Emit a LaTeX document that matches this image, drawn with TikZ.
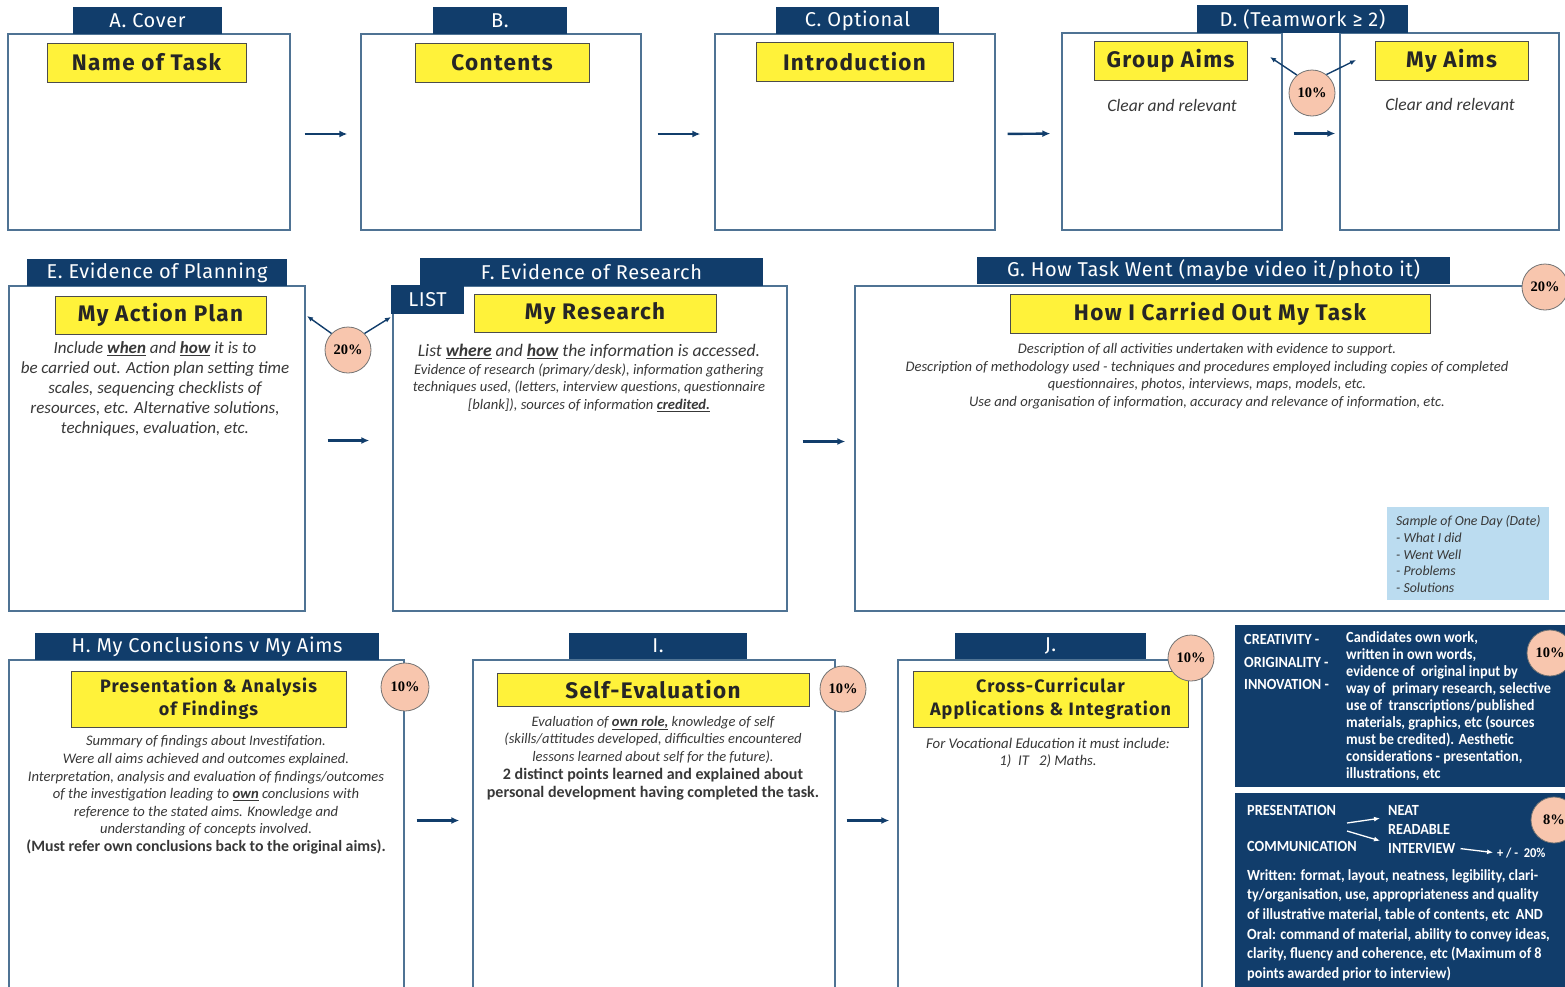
\documentclass[tikz,border=0pt]{standalone}
\usepackage{fontspec}
\setmainfont{Carlito}
\newfontfamily\headfont{Fira Sans}[LetterSpace=3]
\newfontfamily\labelfont{Fira Sans}[LetterSpace=6]
\newfontfamily\pctfont{Liberation Serif}
\newfontfamily\condfont{Carlito}[FakeStretch=0.92]
\usetikzlibrary{arrows.meta,positioning}
\definecolor{navy}{HTML}{113D6B}
\definecolor{panelline}{HTML}{4F7394}
\definecolor{hilite}{HTML}{FFF23A}
\definecolor{peach}{HTML}{F8C6AE}
\definecolor{skyblue}{HTML}{BBDCF0}
\definecolor{ink}{HTML}{383838}
\newcommand{\ulbf}[1]{\underline{\textbf{#1}}}
\tikzset{
  flow/.style={-{Latex[length=8pt,width=7pt]},line width=2.4pt,draw=navy},
  pctflow/.style={-{Latex[length=6pt,width=5pt]},line width=1.4pt,draw=navy},
  whiteflow/.style={-{Latex[length=6pt,width=5pt]},line width=1.3pt,draw=white},
  panel/.style={draw=panelline,line width=1.3pt,fill=white,inner sep=0pt},
  tab/.style={fill=navy,inner sep=0pt,text=white,font=\headfont\fontsize{20}{22}\selectfont},
  hl/.style={fill=hilite,draw=black!70,line width=1pt,inner sep=0pt,align=center,text=black!85,
             font=\labelfont\bfseries\fontsize{22.5}{23.5}\selectfont},
  hltwo/.style={hl,font=\labelfont\bfseries\fontsize{18}{23}\selectfont},
  pct/.style={circle,fill=peach,draw=black!55,line width=0.8pt,minimum size=46pt,inner sep=0pt,
              font=\pctfont\bfseries\fontsize{14.5}{16}\selectfont},
  note/.style={align=center,inner sep=0pt,text=ink,font=\itshape\fontsize{14.6}{17.6}\selectfont},
  darkbox/.style={fill=navy,inner sep=0pt},
  boxtext/.style={inner sep=0pt,anchor=west,align=left,text=white,
                  font=\condfont\bfseries\fontsize{15.5}{17}\selectfont}
}
\begin{document}
\begin{tikzpicture}[x=1pt,y=-1pt]
\useasboundingbox (0,0) rectangle (1565,986);
\clip (0,0) rectangle (1565,986);
% row 1
\node[panel,minimum width=282pt,minimum height=196pt] (boxA) at (149,132) {};
\node[tab,minimum width=149pt,minimum height=27pt] (tabA) at (147.5,20.5) {A. Cover};
\node[hl,minimum width=199pt,minimum height=39pt] (lblA) at (146.5,62.5) {Name of Task};
\node[panel,minimum width=280pt,minimum height=196pt] (boxB) at (501,132) {};
\node[tab,minimum width=134pt,minimum height=27pt] (tabB) at (500,20.5) {B.};
\node[hl,minimum width=174pt,minimum height=39pt] (lblB) at (502,62.5) {Contents};
\node[panel,minimum width=280pt,minimum height=196pt] (boxC) at (855,132) {};
\node[tab,minimum width=163pt,minimum height=27pt] (tabC) at (857.5,20.5) {C. Optional};
\node[hl,minimum width=197pt,minimum height=39pt] (lblC) at (854.5,61.5) {Introduction};
\node[panel,minimum width=220pt,minimum height=197pt] (boxDa) at (1172,131.5) {};
\node[panel,minimum width=219pt,minimum height=197pt] (boxDb) at (1449.5,131.5) {};
\node[tab,minimum width=211pt,minimum height=28pt] (tabD) at (1302.5,19) {D. (Teamwork ≥ 2)};
\node[hl,minimum width=153pt,minimum height=39pt] (lblDa) at (1170.5,60.5) {Group Aims};
\node[hl,minimum width=153pt,minimum height=39pt] (lblDb) at (1451.5,60.5) {My Aims};
\node[note,font=\itshape\fontsize{17.5}{20}\selectfont] (aimsDa) at (1172,105) {Clear and relevant};
\node[note,font=\itshape\fontsize{17.5}{20}\selectfont] (aimsDb) at (1450,104) {Clear and relevant};
\node[pct] (pctD) at (1312,93) {10\%};
\coordinate (tipDa) at (1270,57);
\coordinate (tipDb) at (1356,60);
\draw[pctflow] (pctD.130) -- (tipDa);
\draw[pctflow] (pctD.52) -- (tipDb);
\draw[flow,shorten <=14pt,shorten >=13pt] ([yshift=-2pt]boxA.east) -- ([yshift=-2pt]boxB.west);
\draw[flow,shorten <=16pt,shorten >=14pt] ([yshift=-2pt]boxB.east) -- ([yshift=-2pt]boxC.west);
\draw[flow,shorten <=12pt,shorten >=11pt] ([yshift=-2pt]boxC.east) -- ([yshift=-2pt]boxDa.west);
\draw[flow,shorten <=11pt,shorten >=4pt] ([yshift=-2pt]boxDa.east) -- ([yshift=-2pt]boxDb.west);
% row 2
\node[panel,minimum width=296pt,minimum height=325pt] (boxE) at (157,448.5) {};
\node[tab,minimum width=260pt,minimum height=27pt] (tabE) at (157,272.5) {E. Evidence of Planning};
\node[hl,minimum width=211pt,minimum height=38pt] (lblE) at (160.5,315) {My Action Plan};
\node[note,font=\itshape\fontsize{17}{20}\selectfont] (txtE) at (155,389)
  {Include \ulbf{when} and \ulbf{how} it is to\\be carried out. Action plan setting time\\scales, sequencing checklists of\\resources, etc. Alternative solutions,\\techniques, evaluation, etc.};
\node[pct] (pctE) at (348,350) {20\%};
\coordinate (tipE) at (307,316);
\coordinate (tipF) at (391,317);
\draw[pctflow] (pctE.135) -- (tipE);
\draw[pctflow] (pctE.45) -- (tipF);
\node[panel,minimum width=394pt,minimum height=325pt] (boxF) at (590,448.5) {};
\node[tab,minimum width=343pt,minimum height=28pt] (tabF) at (591.5,272) {F. Evidence of Research};
\node[tab,minimum width=73pt,minimum height=29pt] (listF) at (427.5,299.5) {LIST};
\node[hl,minimum width=242pt,minimum height=38pt] (lblF) at (595,313) {My Research};
\node[note] (txtF) at (589,378)
  {{\fontsize{17.6}{20}\selectfont List \ulbf{where} and \ulbf{how} the information is accessed.}\\
   Evidence of research (primary/desk), information gathering\\
   techniques used, (letters, interview questions, questionnaire\\{}[blank]), sources of information \ulbf{credited.}};
\node[panel,minimum width=720pt,minimum height=325pt] (boxG) at (1215,448.5) {};
\node[tab,minimum width=473pt,minimum height=27pt] (tabG) at (1213.5,270.5) {G. How Task Went (maybe video it/photo it)};
\node[hl,minimum width=420pt,minimum height=39pt] (lblG) at (1220,313.5) {How I Carried Out My Task};
\node[note] (txtG) at (1207,376)
  {Description of all activities undertaken with evidence to support.\\
   Description of methodology used - techniques and procedures employed including copies of completed\\
   questionnaires, photos, interviews, maps, models, etc.\\
   Use and organisation of information, accuracy and relevance of information, etc.};
\node[pct] (pctG) at (1545,287) {20\%};
\node[fill=skyblue,inner sep=0pt,minimum width=162pt,minimum height=93pt] (sampleG) at (1468,553.5) {};
\node[note,align=left,anchor=west,font=\itshape\fontsize{13.8}{16.7}\selectfont] (daysG) at (1396,554)
  {Sample of One Day (Date)\\- What I did\\- Went Well\\- Problems\\- Solutions};
\draw[flow,shorten <=22pt,shorten >=23pt] ([yshift=8pt]boxE.east) -- ([yshift=8pt]boxF.west);
\draw[flow,shorten <=15pt,shorten >=9pt] ([yshift=7pt]boxF.east) -- ([yshift=7pt]boxG.west);
% row 3
\node[panel,minimum width=395pt,minimum height=335pt] (boxH) at (206.5,827.5) {};
\node[tab,minimum width=344pt,minimum height=27pt] (tabH) at (207,646.5) {H. My Conclusions v My Aims};
\node[hltwo,minimum width=275pt,minimum height=56pt] (lblH) at (208.5,699) {Presentation \& Analysis\\of Findings};
\node[note] (txtH) at (206,795)
  {Summary of findings about Investifation.\\
   Were all aims achieved and outcomes explained.\\
   Interpretation, analysis and evaluation of findings/outcomes\\
   of the investigation leading to \ulbf{own} conclusions with\\
   reference to the stated aims. Knowledge and\\
   understanding of concepts involved.\\
   {\upshape\bfseries\fontsize{15.8}{17.6}\selectfont (Must refer own conclusions back to the original aims).}};
\node[pct,minimum size=48pt] (pctH) at (405,687) {10\%};
\node[panel,minimum width=362pt,minimum height=335pt] (boxI) at (654,827.5) {};
\node[tab,minimum width=178pt,minimum height=26pt] (tabI) at (658,646) {I.};
\node[hl,minimum width=312pt,minimum height=33pt] (lblI) at (653,689.5) {Self-Evaluation};
\node[note,font=\itshape\fontsize{14.5}{17.8}\selectfont] (txtI) at (653,758)
  {Evaluation of \ulbf{own role,} knowledge of self\\
   (skills/attitudes developed, difficulties encountered\\
   lessons learned about self for the future).\\
   {\upshape\bfseries\fontsize{16}{17.8}\selectfont 2 distinct points learned and explained about}\\
   {\upshape\bfseries\fontsize{16}{17.8}\selectfont personal development having completed the task.}};
\node[pct] (pctI) at (843,689) {10\%};
\node[panel,minimum width=304pt,minimum height=335pt] (boxJ) at (1050,827.5) {};
\node[tab,minimum width=191pt,minimum height=26pt] (tabJ) at (1050.5,646) {J.};
\node[hltwo,minimum width=275pt,minimum height=56pt] (lblJ) at (1050.5,699) {Cross-Curricular\\Applications \& Integration};
\node[note,font=\itshape\fontsize{14.8}{17}\selectfont] (txtJ) at (1048,753)
  {For Vocational Education it must include:\\1)~~IT~~~2) Maths.};
\node[pct] (pctJ) at (1191,658) {10\%};
\draw[flow,shorten <=12pt,shorten >=13pt] ([yshift=7pt]boxH.east) -- ([yshift=7pt]boxI.west);
\draw[flow,shorten <=11pt,shorten >=8pt] ([yshift=7pt]boxI.east) -- ([yshift=7pt]boxJ.west);
% marking boxes
\node[darkbox,minimum width=340pt,minimum height=162pt] (markA) at (1405,706) {};
\node[boxtext,font=\condfont\bfseries\fontsize{15.5}{22.5}\selectfont] (critA) at (1244,662)
  {CREATIVITY -\\ORIGINALITY -\\INNOVATION -};
\node[boxtext] (descA) at (1346,706)
  {Candidates own work,\\written in own words,\\evidence of~ original input by\\way of~ primary research, selective\\use of~ transcriptions/published\\materials, graphics, etc (sources\\must be credited). Aesthetic\\considerations - presentation,\\illustrations, etc};
\node[pct] (pctA) at (1550,653) {10\%};
\node[darkbox,minimum width=340pt,minimum height=202pt] (markB) at (1405,894) {};
\node[boxtext] (presB) at (1247,810) {PRESENTATION};
\node[boxtext] (commB) at (1247,846) {COMMUNICATION};
\node[boxtext] (neatB) at (1388,810) {NEAT};
\node[boxtext] (readB) at (1388,829) {READABLE};
\node[boxtext] (viewB) at (1388,848) {INTERVIEW};
\node[boxtext,font=\condfont\bfseries\fontsize{13.5}{15}\selectfont] (plusB) at (1497,853) {+ / -~ 20\%};
\coordinate (forkB) at (1347,823);
\coordinate (forkC) at (1347,831);
\draw[whiteflow] (forkB) -- ([xshift=-8pt,yshift=-3pt]neatB.south west);
\draw[whiteflow] (forkC) -- ([xshift=-8pt,yshift=2pt]viewB.north west);
\draw[whiteflow,shorten <=5pt,shorten >=4pt] (viewB.east) -- (plusB.west);
\node[boxtext,font=\condfont\bfseries\fontsize{15.5}{19.6}\selectfont] (writB) at (1247,925)
  {Written: format, layout, neatness, legibility, clari-\\
   ty/organisation, use, appropriateness and quality\\
   of illustrative material, table of contents, etc~ AND\\
   Oral: command of material, ability to convey ideas,\\
   clarity, fluency and coherence, etc (Maximum of 8\\
   points awarded prior to interview)};
\node[pct] (pctB) at (1554,820) {8\%};
\end{tikzpicture}
\end{document}
